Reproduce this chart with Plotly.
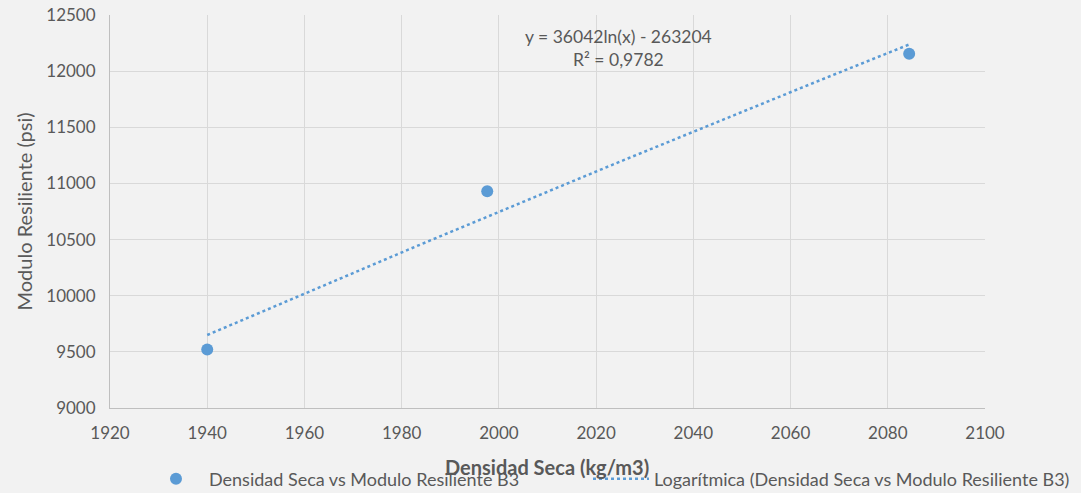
import numpy as np
import plotly.graph_objects as go

densidad = [1940.0, 1997.6, 2084.4]
modulo = [9520, 10930, 12155]
coef_a = 36042
coef_b = -263204
eq_text = "y = 36042ln(x) - 263204"
r2_text = "R² = 0,9782"
x_title = "Densidad Seca (kg/m3)"
y_title = "Modulo Resiliente (psi)"

x_fit = np.linspace(min(densidad), max(densidad), 60)
y_fit = coef_a * np.log(x_fit) + coef_b

blue = "#5B9BD5"
grey = "#595959"
font_family = "Lato, 'Open Sans', sans-serif"

fig = go.Figure()
fig.add_trace(go.Scatter(
    x=densidad, y=modulo, mode="markers",
    marker=dict(color=blue, size=12),
    name="Densidad Seca vs Modulo Resiliente B3", legend="legend"))
fig.add_trace(go.Scatter(
    x=x_fit, y=y_fit, mode="lines",
    line=dict(color=blue, width=2.5, dash="dot"),
    name="Logarítmica (Densidad Seca vs Modulo Resiliente B3)", legend="legend2"))

fig.add_annotation(x=0.5806, y=0.915, xref="paper", yref="paper",
                   text=eq_text + "<br>" + r2_text, showarrow=False,
                   font=dict(size=17.5, color=grey, family=font_family),
                   align="center", xanchor="center", yanchor="middle")
fig.add_annotation(x=0.4989, y=-0.150, xref="paper", yref="paper",
                   text="<b>" + x_title + "</b>", showarrow=False,
                   font=dict(size=20, color=grey, family=font_family),
                   xanchor="center", yanchor="middle")
fig.add_annotation(x=-0.0983, y=0.5, xref="paper", yref="paper",
                   text=y_title, showarrow=False, textangle=-90,
                   font=dict(size=20, color=grey, family=font_family),
                   xanchor="center", yanchor="middle")

legend_common = dict(orientation="h", y=-0.181, xanchor="left", yanchor="middle",
                     font=dict(size=18, color=grey), bgcolor="rgba(0,0,0,0)",
                     itemwidth=56)
fig.update_layout(
    width=1081, height=493,
    paper_bgcolor="#F2F2F2", plot_bgcolor="#F2F2F2",
    margin=dict(l=110, r=96, t=15, b=85, autoexpand=False),
    font=dict(family=font_family, color=grey, size=17),
    showlegend=True,
    legend=dict(x=0.0377, **legend_common),
    legend2=dict(x=0.5463, **legend_common),
)
fig.update_xaxes(range=[1920, 2100], dtick=20, showgrid=True, gridcolor="#D9D9D9",
                 gridwidth=1, zeroline=False, showline=True, linecolor="#BFBFBF",
                 ticks="", tickfont=dict(size=17, color=grey), tickformat="d",
                 ticklabelstandoff=10, automargin=False)
fig.update_yaxes(range=[9000, 12500], dtick=500, showgrid=True, gridcolor="#D9D9D9",
                 gridwidth=1, zeroline=False, showline=True, linecolor="#BFBFBF",
                 ticks="", tickfont=dict(size=17, color=grey), tickformat="d",
                 ticklabelstandoff=10, automargin=False)

fig.write_html("out.html", config={"displayModeBar": False},
               post_script="document.body.style.margin='0';document.body.style.overflow='hidden';document.body.style.background='#F2F2F2';")
